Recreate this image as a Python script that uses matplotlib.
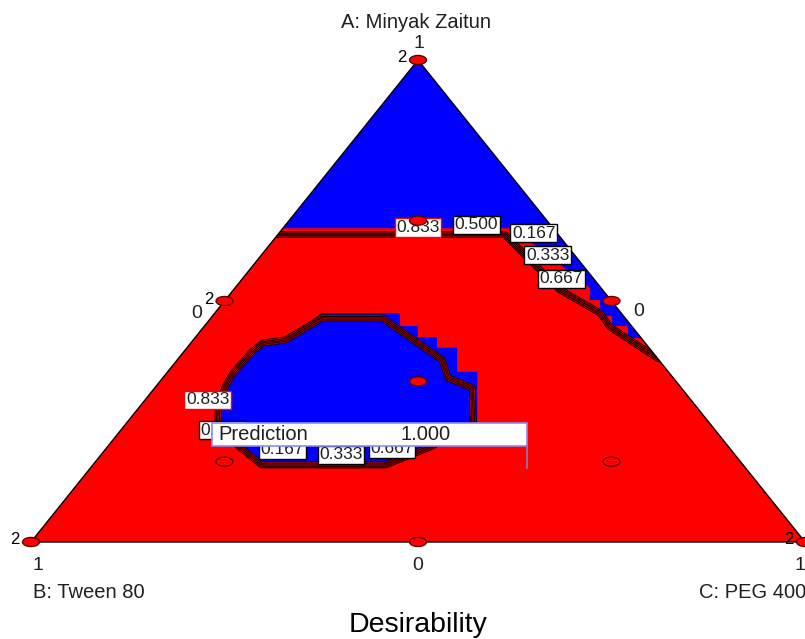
"""
Desirability - ternary mixture plot
"""

import matplotlib.pyplot as plt
from matplotlib.patches import Polygon, Ellipse, Rectangle
from matplotlib import patheffects
from matplotlib.transforms import IdentityTransform

plt.rcParams['font.family'] = ['Liberation Sans', 'DejaVu Sans']

# mixture fractions: A = Minyak Zaitun, C = PEG 400, B = 1 - A - C
pts_A = [1, 0, 0, 1/2, 1/2, 0, 1/3, 2/3, 1/6, 1/6]
pts_C = [0, 0, 1, 0, 1/2, 1/2, 1/3, 1/6, 1/6, 2/3]
pts_filled = [True, True, True, True, True, True, True, True, False, False]

# replicated runs
rep_A = [1, 0, 0, 1/2]
rep_C = [0, 0, 1, 0]
rep_n = ['2', '2', '2', '2']

# zones where desirability = 0
cap_A = [1.0, 0.651, 0.651, 0.616, 0.527, 0.502, 0.502, 0.469, 0.469, 0.448, 0.448, 0.423, 0.423]
cap_C = [0.0, 0.0, 0.293, 0.343, 0.459, 0.471, 0.484, 0.501, 0.516, 0.527, 0.547, 0.560, 0.577]

isl_A = [0.475, 0.475, 0.448, 0.448, 0.425, 0.425, 0.403, 0.403, 0.353, 0.353, 0.237,
         0.197, 0.160, 0.160, 0.197, 0.243, 0.284, 0.322, 0.347, 0.373, 0.394, 0.413, 0.419]
isl_C = [0.138, 0.239, 0.253, 0.276, 0.287, 0.312, 0.323, 0.349, 0.374, 0.400, 0.458,
         0.417, 0.378, 0.218, 0.171, 0.120, 0.100, 0.090, 0.086, 0.087, 0.088, 0.093, 0.119]

# contour bundles (0.167 ... 0.833)
capline_A = [0.638, 0.638, 0.523, 0.475, 0.446, 0.382]
capline_C = [0.0, 0.293, 0.422, 0.498, 0.525, 0.618]

ring_A = [0.465, 0.465, 0.378, 0.340, 0.320, 0.243, 0.197, 0.160, 0.160, 0.197,
          0.243, 0.284, 0.322, 0.347, 0.373, 0.394, 0.413, 0.419, 0.465]
ring_C = [0.144, 0.221, 0.342, 0.369, 0.410, 0.450, 0.417, 0.378, 0.218, 0.171,
          0.120, 0.100, 0.090, 0.086, 0.087, 0.088, 0.093, 0.119, 0.144]

lab_text = ['0.833', '0.500', '0.167', '0.333', '0.667',
            '0.833', '0.500', '0.167', '0.333', '0.667']
lab_A = [0.652, 0.658, 0.641, 0.595, 0.546, 0.295, 0.232, 0.191, 0.181, 0.193]
lab_C = [0.174, 0.246, 0.329, 0.370, 0.412, 0.081, 0.131, 0.229, 0.310, 0.370]

# flagged prediction
flag_A = 0.154
flag_C = 0.564
flag_value = 1.000


def to_xy(a, c):
    return c + a / 2, a


fig = plt.figure(figsize=(8.05, 6.39), dpi=100)
ax = fig.add_axes([31 / 805, 97 / 639, 774 / 805, 482 / 639])
ax.set_xlim(0, 1)
ax.set_ylim(0, 1)
ax.axis('off')

tri = Polygon([(0, 0), (1, 0), (0.5, 1)], closed=True, fc='#ff0000', ec='none', zorder=1)
ax.add_patch(tri)

for A, C in [(cap_A, cap_C), (isl_A, isl_C)]:
    xy = [to_xy(a, c) for a, c in zip(A, C)]
    p = Polygon(xy, closed=True, fc='#0000ff', ec='none', zorder=2)
    ax.add_patch(p)
    p.set_clip_path(tri)

bundle = [patheffects.Stroke(linewidth=5.0, foreground='black'),
          patheffects.Stroke(linewidth=3.8, foreground='#b00000'),
          patheffects.Stroke(linewidth=2.6, foreground='black'),
          patheffects.Stroke(linewidth=1.4, foreground='#c00000'),
          patheffects.Normal()]
for A, C in [(capline_A, capline_C), (ring_A, ring_C)]:
    x, y = zip(*[to_xy(a, c) for a, c in zip(A, C)])
    ln, = ax.plot(x, y, color='black', lw=0.5, zorder=3, path_effects=bundle)
    ln.set_clip_path(tri)

ax.add_patch(Polygon([(0, 0), (1, 0), (0.5, 1)], closed=True, fc='none',
                     ec='black', lw=1.0, zorder=4, clip_on=False))

# contour labels
for t, a, c in zip(lab_text, lab_A, lab_C):
    ec = '#ff0000' if t == '0.833' else 'black'
    ax.text(*to_xy(a, c), t, fontsize=12.5, color='#202020', ha='center', va='center',
            zorder=5, bbox=dict(boxstyle='square,pad=0.1', fc='white', ec=ec, lw=1.0))

# design points
for a, c, f in zip(pts_A, pts_C, pts_filled):
    e = Ellipse(to_xy(a, c), 0.022, 0.019, fc='#ff0000' if f else 'none',
                ec='#500000', lw=0.9, zorder=6, clip_on=False)
    ax.add_patch(e)

for a, c, n in zip(rep_A, rep_C, rep_n):
    ax.annotate(n, to_xy(a, c), xytext=(-16, 2), textcoords='offset pixels',
                fontsize=12, ha='center', va='center', zorder=7)

# axis ticks and titles
ticks = [((1, 0), '1', (1, 16), 'center'),
         ((1/2, 0), '0', (-28, -12), 'center'),
         ((1/2, 1/2), '0', (27, -11), 'center'),
         ((0, 0), '1', (7, -24), 'center'),
         ((0, 1/2), '0', (0, -24), 'center'),
         ((0, 1), '1', (-5, -24), 'center')]
for (a, c), t, off, ha in ticks:
    ax.annotate(t, to_xy(a, c), xytext=off, textcoords='offset pixels',
                fontsize=14, ha=ha, va='center', color='#202020')

ax.annotate('A: Minyak Zaitun', to_xy(1, 0), xytext=(-2, 38), textcoords='offset pixels',
            fontsize=14.5, ha='center', va='center', color='#202020')
ax.annotate('B: Tween 80', to_xy(0, 0), xytext=(2, -50), textcoords='offset pixels',
            fontsize=14.5, ha='left', va='center', color='#202020')
ax.annotate('C: PEG 400', to_xy(0, 1), xytext=(1, -50), textcoords='offset pixels',
            fontsize=14.5, ha='right', va='center', color='#202020')
ax.annotate('Desirability', to_xy(0, 1/2), xytext=(0, -83), textcoords='offset pixels',
            fontsize=20.5, ha='center', va='center', color='black')

# prediction flag
fx, fy = ax.transData.transform(to_xy(flag_A, flag_C))
fig.add_artist(Rectangle((fx - 315, fy + 22), 315, 23, transform=IdentityTransform(),
                         fc='white', ec='#8c8cf0', lw=1.2, zorder=10))
fig.add_artist(plt.Line2D([fx, fx], [fy + 22, fy], transform=IdentityTransform(),
                          color='#8080c0', lw=1.2, zorder=10))
fig.text(fx - 309, fy + 33, 'Prediction', transform=IdentityTransform(),
         fontsize=14.5, ha='left', va='center', color='#202020', zorder=11)
fig.text(fx - 127, fy + 33, f'{flag_value:.3f}', transform=IdentityTransform(),
         fontsize=14.5, ha='left', va='center', color='#202020', zorder=11)

fig.savefig('out.png', dpi=100)
